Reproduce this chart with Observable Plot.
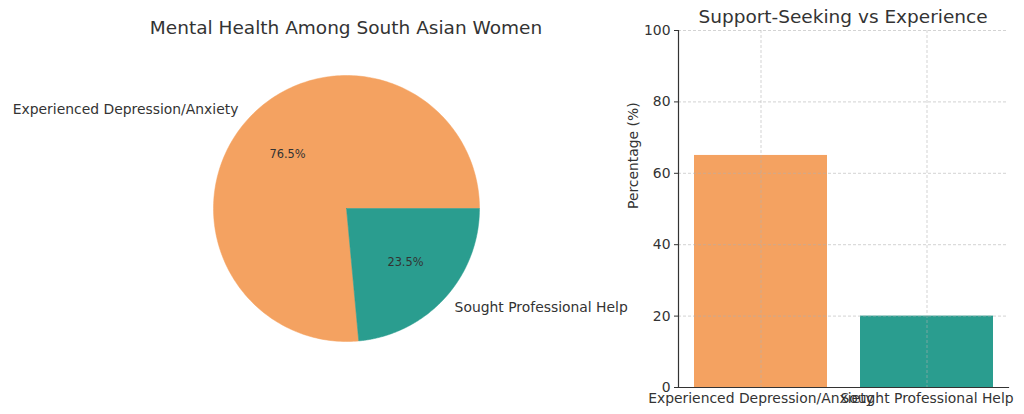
<!DOCTYPE html>
<html><head><meta charset="utf-8">
<script src="https://cdn.jsdelivr.net/npm/d3@7"></script>
<script src="https://cdn.jsdelivr.net/npm/@observablehq/plot@0.6"></script>
<style>
body{margin:0;background:#fff;}
#wrap{position:relative;width:1024px;height:414px;overflow:hidden;font-family:"DejaVu Sans",sans-serif;color:#333;background:#fff;}
.title{position:absolute;font-size:18.5px;line-height:1;white-space:nowrap;transform:translateX(-50%);color:#333;}
#pie,#bar{position:absolute;top:0;}
#pie{left:0;} #bar{left:600px;}
svg{overflow:visible;}
</style></head><body>
<div id="wrap">
 <div id="pie"></div><div id="bar"></div>
 <div class="title" style="left:346px;top:19px">Mental Health Among South Asian Women</div>
 <div class="title" style="left:843px;top:8px">Support-Seeking vs Experience</div>
</div>
<script>
const categories = ["Experienced Depression/Anxiety", "Sought Professional Help"];
const values = [65, 20];
const colors = ["#F4A261", "#2A9D8F"];
const yTicks = [0, 20, 40, 60, 80, 100];
const yLabel = "Percentage (%)";

// ---- pie geometry (in unit-radius data space) ----
const total = d3.sum(values);
const slicePts = [];
const nameLabels = [];
const pctLabels = [];
let cum = 0;
values.forEach((v, i) => {
  const cat = categories[i];
  const a0 = 2 * Math.PI * cum / total, a1 = 2 * Math.PI * (cum + v) / total;
  slicePts.push({cat, x: 0, y: 0});
  const n = 240;
  for (let k = 0; k <= n; k++) {
    const a = a0 + (a1 - a0) * k / n;
    slicePts.push({cat, x: Math.cos(a), y: Math.sin(a)});
  }
  slicePts.push({cat, x: 0, y: 0});
  const am = (a0 + a1) / 2;
  nameLabels.push({cat, x: 1.1 * Math.cos(am), y: 1.1 * Math.sin(am), anchor: Math.cos(am) < 0 ? "end" : "start"});
  pctLabels.push({text: (100 * v / total).toFixed(1) + "%", x: 0.6 * Math.cos(am), y: 0.6 * Math.sin(am)});
  cum += v;
});

const PW = 640, PH = 414, R = 133, CX = 346, CY = 208;
const pie = Plot.plot({
  width: PW, height: PH,
  margin: 0,
  style: {background: "transparent", overflow: "visible", fontFamily: "DejaVu Sans", color: "#333"},
  x: {domain: [-CX / R, (PW - CX) / R], range: [0, PW], axis: null},
  y: {domain: [-(PH - CY) / R, CY / R], range: [PH, 0], axis: null},
  color: {domain: categories, range: colors},
  marks: [
    Plot.line(slicePts, {x: "x", y: "y", z: "cat", fill: "cat", stroke: "cat", strokeWidth: 0.5, curve: "linear"}),
    Plot.text(nameLabels.filter(d => d.anchor === "end"), {x: "x", y: "y", text: "cat", textAnchor: "end", fontSize: 13.9, fill: "#333"}),
    Plot.text(nameLabels.filter(d => d.anchor === "start"), {x: "x", y: "y", text: "cat", textAnchor: "start", fontSize: 13.9, fill: "#333"}),
    Plot.text(pctLabels, {x: "x", y: "y", text: "text", fontSize: 11.4, fill: "#333"})
  ]
});
document.getElementById("pie").appendChild(pie);

// ---- bar chart ----
const barData = categories.map((c, i) => ({cat: c, value: values[i]}));
const bar = Plot.plot({
  width: 424, height: 414,
  marginLeft: 78, marginRight: 16, marginTop: 30, marginBottom: 27,
  style: {background: "transparent", overflow: "visible", fontFamily: "DejaVu Sans", fontSize: "13.9px", color: "#333"},
  x: {domain: categories, paddingInner: 0.2, paddingOuter: 0.09, label: null},
  y: {domain: [0, 100], label: null},
  color: {domain: categories, range: colors},
  marks: [
    Plot.barY(barData, {x: "cat", y: "value", fill: "cat"}),
    Plot.gridY(yTicks, {stroke: "#b0b0b0", strokeOpacity: 0.7, strokeWidth: 0.8, strokeDasharray: "3,2"}),
    Plot.gridX(categories, {stroke: "#b0b0b0", strokeOpacity: 0.7, strokeWidth: 0.8, strokeDasharray: "3,2"}),
    Plot.axisY(yTicks, {tickSize: 4, tickPadding: 4, fontSize: 13.9, label: null, stroke: "#333", fill: "#333"}),
    Plot.axisX(categories, {tickSize: 0, tickPadding: 6, fontSize: 13.9, label: null, fill: "#333"}),
    Plot.text([yLabel], {text: d => d, frameAnchor: "left", rotate: -90, dx: -45, fontSize: 13.9, fill: "#333"}),
    Plot.frame({anchor: "left", stroke: "#333", strokeWidth: 1.2}),
    Plot.frame({anchor: "bottom", stroke: "#333", strokeWidth: 1.2})
  ]
});
document.getElementById("bar").appendChild(bar);
</script>
</body></html>
